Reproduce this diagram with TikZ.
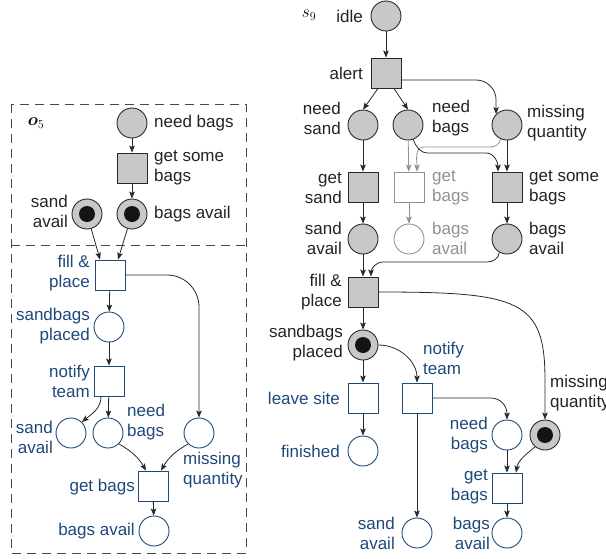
\documentclass[tikz,border=0pt]{standalone}
\usepackage{amsmath}
\usepackage{fontspec}
\setmainfont{Liberation Sans}
\usetikzlibrary{arrows.meta,calc}
\definecolor{pnblue}{RGB}{30,72,122}
\definecolor{pnfill}{RGB}{200,200,200}
\definecolor{pnline}{RGB}{40,40,40}
\definecolor{pntext}{RGB}{35,35,35}
\definecolor{pnfaint}{RGB}{145,145,145}
\begin{document}
\begin{tikzpicture}[x=1pt,y=1pt,
  every node/.style={font=\fontsize{17}{20}\selectfont},
  place/.style={circle,minimum size=30pt,inner sep=0pt,line width=0.9pt},
  trans/.style={rectangle,minimum size=30pt,inner sep=0pt,line width=0.9pt},
  dk/.style={draw=pnline,fill=pnfill},
  bl/.style={draw=pnblue,fill=white},
  ft/.style={draw=pnfaint,fill=white},
  token/.style={path picture={\fill[black!92] (path picture bounding box.center) circle (8pt);}},
  tl/.style={anchor=east,align=right,inner sep=0pt,text=pntext},
  tr/.style={anchor=west,align=left,inner sep=0pt,text=pntext},
  tb/.style={text=pnblue},
  tf/.style={text=pnfaint},
  arr/.style={-{Stealth[length=7pt,width=5.5pt,inset=1.5pt]},draw=pnline,line width=0.8pt},
  farr/.style={arr,draw=pnfaint,-{Stealth[length=7pt,width=5.5pt,inset=1.5pt,fill=pnfaint]}},
  frame/.style={draw=pnline!85,dash pattern=on 9pt off 6pt,line width=0.8pt}
]
\useasboundingbox (0,0) rectangle (606,-558);
\clip (0,0) rectangle (606,-558);

% ---------- left panel: the fragment o5 ----------
\draw[frame] (11,-104) rectangle (246,-553);
\draw[frame] (11,-245) -- (246,-245);
\node (o5) at (36,-123) {$\boldsymbol{o}_5$};

\node[place,dk] (lnb) at (132,-123) {};
\node[tr] (lnbT) at (154,-123) {need bags};
\node[trans,dk] (lgs) at (132,-168) {};
\node[tr] (lgsT) at (154,-168) {get some\\bags};
\node[place,dk,token] (lba) at (132,-214) {};
\node[tr] (lbaT) at (154,-214) {bags avail};
\node[place,dk,token] (lsa) at (87,-214) {};
\node[tl] (lsaT) at (68,-211) {sand\\avail};

\node[trans,bl] (lfp) at (110,-275) {};
\node[tl,tb] (lfpT) at (90,-273) {fill \&\\place};
\node[place,bl] (lsp) at (109,-327) {};
\node[tl,tb] (lspT) at (90,-326) {sandbags\\placed};
\node[trans,bl] (lnt) at (109,-381) {};
\node[tl,tb] (lntT) at (90,-381) {notify\\team};
\node[place,bl] (lsa2) at (71,-433) {};
\node[tl,tb] (lsa2T) at (53,-437) {sand\\avail};
\node[place,bl] (lnb2) at (108,-433) {};
\node[tr,tb] (lnb2T) at (127,-422) {need\\bags};
\node[place,bl] (lmq) at (199,-433) {};
\node[tr,tb] (lmqT) at (183,-470) {missing\\quantity};
\node[trans,bl] (lgb) at (153,-486) {};
\node[tl,tb] (lgbT) at (135,-487) {get bags};
\node[place,bl] (lba2) at (154,-531) {};
\node[tl,tb] (lba2T) at (135,-531) {bags avail};

\draw[arr] (lnb) -- (lgs);
\draw[arr] (lgs) -- (lba);
\draw[arr] (lsa) -- ([xshift=-10pt]lfp.north);
\draw[arr] (lba) -- ([xshift=8pt]lfp.north);
\draw[arr] (lfp) -- (lsp);
\draw[arr] (lsp) -- (lnt);
\draw[arr] ([xshift=-8pt]lnt.south) to[out=-90,in=40] (lsa2.north east);
\draw[arr] (lnt) -- (lnb2);
\draw[arr,rounded corners=32pt] (lfp.east) -| (lmq.north);
\draw[arr] (lnb2.south east) to[out=-30,in=120] ([xshift=-7pt]lgb.north);
\draw[arr] (lmq.south west) to[out=-150,in=60] ([xshift=8pt]lgb.north);
\draw[arr] (lgb) -- (lba2);

% ---------- right panel: the state s9 ----------
\node (s9) at (309,-15) {$s_9$};
\node[place,dk] (ridle) at (386,-16) {};
\node[tl] (ridleT) at (363,-16) {idle};
\node[trans,dk] (ralert) at (386,-73) {};
\node[tl] (ralertT) at (363,-73) {alert};
\node[place,dk] (rns) at (363,-125) {};
\node[tl] (rnsT) at (341,-118) {need\\sand};
\node[place,dk] (rnb) at (408,-125) {};
\node[tr] (rnbT) at (432,-118) {need\\bags};
\node[place,dk] (rmq) at (507,-125) {};
\node[tr] (rmqT) at (527,-123) {missing\\quantity};
\node[trans,dk] (rgs) at (363,-187) {};
\node[tl] (rgsT) at (342,-188) {get\\sand};
\node[trans,ft] (rgbg) at (409,-187) {};
\node[tr,tf] (rgbgT) at (432,-188) {get\\bags};
\node[trans,dk] (rgsb) at (507,-187) {};
\node[tr] (rgsbT) at (529,-188) {get some\\bags};
\node[place,dk] (rsa) at (363,-239) {};
\node[tl] (rsaT) at (342,-238) {sand\\avail};
\node[place,ft] (rbag) at (409,-239) {};
\node[tr,tf] (rbagT) at (432,-238) {bags\\avail};
\node[place,dk] (rba) at (507,-239) {};
\node[tr] (rbaT) at (529,-238) {bags\\avail};
\node[trans,dk] (rfp) at (363,-292) {};
\node[tl] (rfpT) at (342,-292) {fill \&\\place};
\node[place,dk,token] (rsp) at (363,-345) {};
\node[tl] (rspT) at (343,-343) {sandbags\\placed};
\node[trans,bl] (rls) at (363,-398) {};
\node[tl,tb] (rlsT) at (340,-398) {leave site};
\node[place,bl] (rfin) at (363,-451) {};
\node[tl,tb] (rfinT) at (340,-451) {finished};
\node[trans,bl] (rnt) at (417,-398) {};
\node[tr,tb] (rntT) at (423,-358) {notify\\team};
\node[place,bl] (rsa2) at (417,-533) {};
\node[tl,tb] (rsa2T) at (395,-533) {sand\\avail};
\node[place,bl] (rnb2) at (507,-435) {};
\node[tl,tb] (rnb2T) at (488,-435) {need\\bags};
\node[place,dk,token] (rmq2) at (545,-435) {};
\node[tr] (rmq2T) at (550,-393) {missing\\quantity};
\node[trans,bl] (rgb2) at (507,-488) {};
\node[tl,tb] (rgb2T) at (488,-487) {get\\bags};
\node[place,bl] (rba2) at (507,-533) {};
\node[tl,tb] (rba2T) at (490,-533) {bags\\avail};

\draw[arr] (ridle) -- (ralert);
\draw[arr] ([xshift=-8pt]ralert.south) -- (rns.north);
\draw[arr] ([xshift=8pt]ralert.south) -- (rnb.north);
\draw[arr,rounded corners=20pt] ([yshift=-7pt]ralert.east) -| (rmq.north west);
\draw[arr] (rns) -- (rgs);
\draw[farr] (rnb) -- (rgbg);
\draw[farr] (rmq.-115) to[out=-95,in=0] (490,-147) -- (424,-147)
  to[out=180,in=90] ([xshift=8pt]rgbg.north);
\draw[arr] (rnb.-70) to[out=-70,in=180] (428,-153) -- (486,-153)
  to[out=0,in=90] ([xshift=-9pt]rgsb.north);
\draw[arr] (rmq) -- (rgsb);
\draw[arr] (rgs) -- (rsa);
\draw[farr] (rgbg) -- (rbag);
\draw[arr] (rgsb) -- (rba);
\draw[arr] (rsa) -- (rfp);
\draw[arr] (rba.-120) to[out=-95,in=0] (487,-262) -- (383,-262)
  to[out=180,in=90] ([xshift=8pt]rfp.north);
\draw[arr] (rfp) -- (rsp);
\draw[arr] (rfp.east) .. controls (520,-292) and (545,-300) .. (545,-380) -- (rmq2.north);
\draw[arr] (rsp) -- (rls);
\draw[arr] (rsp.east) to[out=0,in=90] (rnt.north);
\draw[arr] (rls) -- (rfin);
\draw[arr,rounded corners=16pt] (rnt.east) -| (rnb2.north);
\draw[arr] (rnt) -- (rsa2);
\draw[arr] (rnb2) -- (rgb2);
\draw[arr] (rmq2.-130) to[out=-140,in=80] ([xshift=9pt]rgb2.north);
\draw[arr] (rgb2) -- (rba2);
\end{tikzpicture}
\end{document}
